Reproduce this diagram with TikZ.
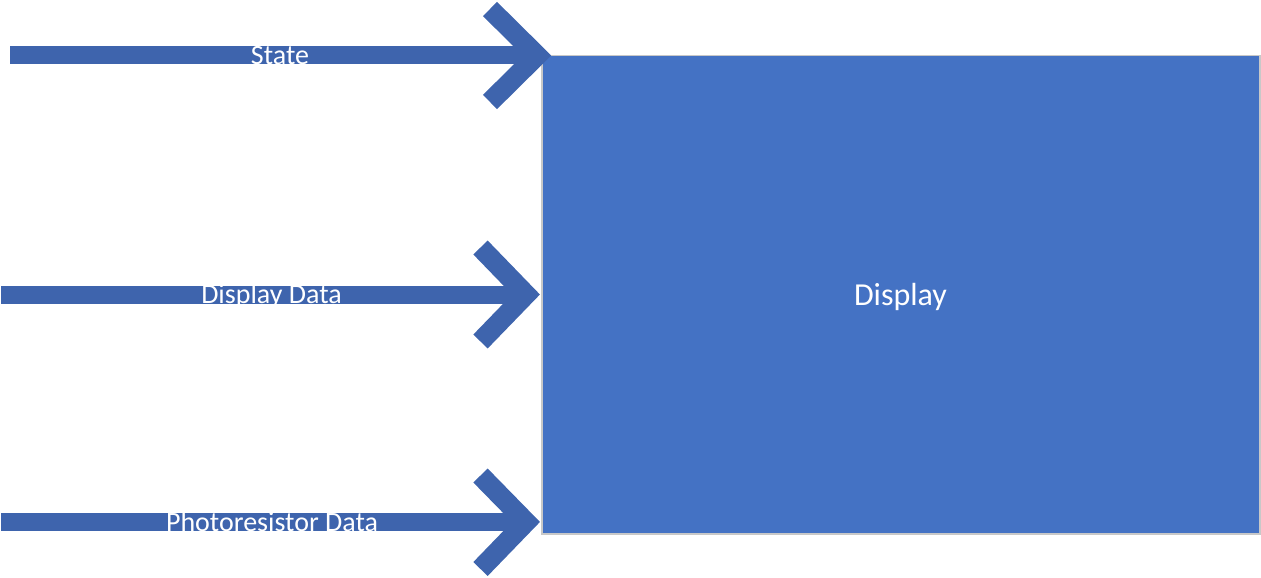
\documentclass[tikz,border=0pt]{standalone}
\usepackage{fontspec}
\setmainfont{Carlito}
\definecolor{boxblue}{RGB}{68,114,196}
\definecolor{arrowblue}{RGB}{62,100,173}
\definecolor{boxedge}{RGB}{200,200,200}
\begin{document}
\begin{tikzpicture}[x=1pt,y=-1pt,
  mainbox/.style={draw=boxedge,line width=1.5pt,fill=boxblue,inner sep=0pt,
    minimum width=718pt,minimum height=478pt,anchor=north west},
  shaft/.style={draw=arrowblue,line width=18pt,line cap=butt},
  chevron/.style={draw=arrowblue,line width=20pt,line join=miter,line cap=butt},
  lbl/.style={text=white,anchor=base,inner sep=0pt,font=\fontsize{28}{30}\selectfont}]
\useasboundingbox (0,0) rectangle (1261,578);
\node[mainbox] (display) at (541,55) {};
\node[text=white,anchor=base,inner sep=0pt,font=\fontsize{32}{36}\selectfont] (displbl) at (900.5,305) {Display};
% arrow 1
\coordinate (s1) at (10,55.5);
\coordinate (t1) at (537,55.5);
\coordinate (a1) at (490,9);
\coordinate (b1) at (490,102);
\draw[shaft] (s1) -- (t1);
\draw[chevron] (a1) -- (t1) -- (b1);
\node[lbl] (l1) at (280,64) {State};
% arrow 2
\coordinate (s2) at (1,294.5);
\coordinate (t2) at (526,294.5);
\coordinate (a2) at (480.5,247.5);
\coordinate (b2) at (480.5,341.5);
\draw[shaft] (s2) -- (t2);
\draw[chevron] (a2) -- (t2) -- (b2);
\node[lbl] (l2) at (271.5,303) {Display Data};
% arrow 3
\coordinate (s3) at (1,522);
\coordinate (t3) at (526,522);
\coordinate (a3) at (480.5,475.5);
\coordinate (b3) at (480.5,569);
\draw[shaft] (s3) -- (t3);
\draw[chevron] (a3) -- (t3) -- (b3);
\node[lbl] (l3) at (272,531) {Photoresistor Data};
\end{tikzpicture}
\end{document}
